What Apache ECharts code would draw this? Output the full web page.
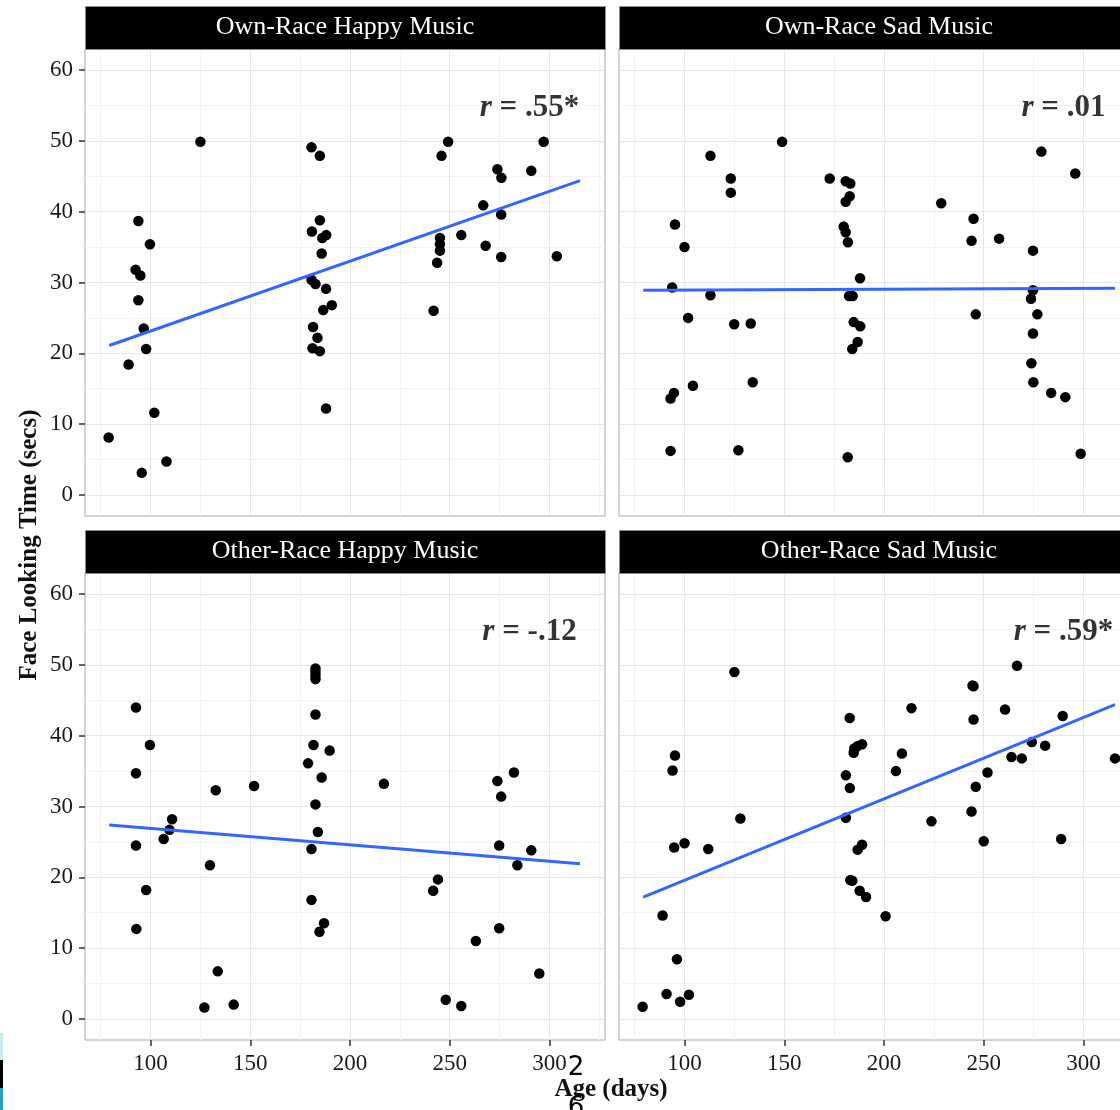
<!DOCTYPE html>
<html>
<head>
<meta charset="utf-8">
<script src="https://cdn.jsdelivr.net/npm/echarts@6/dist/echarts.min.js"></script>
<style>
  html, body { margin: 0; padding: 0; background: #ffffff; }
  #chart { width: 1120px; height: 1110px; }
</style>
</head>
<body>
<div id="chart"></div>
<script>
// ---- facet labels and axis ticks ----
const panelTitles = ['Own-Race Happy Music', 'Own-Race Sad Music', 'Other-Race Happy Music', 'Other-Race Sad Music'];
const corrLabels = ['.55*', '.01', '-.12', '.59*'];
const ageTicks = [100, 150, 200, 250, 300];
const ageMinor = [75, 125, 175, 225, 275, 325];
const timeTicks = [0, 10, 20, 30, 40, 50, 60];
const timeMinor = [5, 15, 25, 35, 45, 55];

// ---- Own-Race, happy music ----
const ownHappyAge  = [125.0, 180.7, 184.9, 249.2, 245.9, 297.1, 273.9, 275.9, 290.9, 266.8, 275.8, 255.8, 245.1, 245.1, 245.1, 243.7, 268.0, 275.8, 303.7, 241.9, 93.9, 99.7, 92.5, 94.9, 93.9, 96.6, 97.8, 89.0, 101.9, 79.0, 108.0, 95.6, 184.9, 180.9, 186.1, 188.1, 185.8, 180.7, 182.7, 188.0, 190.9, 186.6, 181.5, 183.7, 181.2, 184.9, 188.0];
const ownHappyTime = [49.9, 49.1, 47.9, 49.9, 47.9, 49.9, 46.0, 44.8, 45.8, 40.9, 39.6, 36.7, 36.3, 35.4, 34.5, 32.8, 35.2, 33.6, 33.7, 26.0, 38.7, 35.4, 31.8, 31.0, 27.5, 23.5, 20.6, 18.4, 11.6, 8.1, 4.7, 3.1, 38.8, 37.2, 36.3, 36.7, 34.1, 30.4, 29.8, 29.1, 26.8, 26.1, 23.7, 22.2, 20.7, 20.3, 12.2];
const ownHappyFitAge  = [79.3, 315.3];
const ownHappyFitTime = [21.1, 44.4];

// ---- Own-Race, sad music ----
const ownSadAge  = [148.9, 113.0, 123.2, 123.2, 95.2, 100.0, 93.8, 113.0, 101.8, 124.9, 133.2, 104.2, 94.7, 93.0, 134.2, 93.0, 127.0, 172.8, 180.8, 183.1, 182.8, 180.8, 179.8, 180.8, 181.9, 188.0, 182.5, 184.3, 184.8, 188.1, 186.8, 184.1, 181.8, 228.7, 244.9, 243.9, 257.7, 246.0, 278.9, 295.9, 274.7, 274.7, 273.7, 276.9, 274.7, 273.9, 274.9, 283.8, 290.9, 298.6];
const ownSadTime = [49.9, 47.9, 44.7, 42.7, 38.2, 35.0, 29.3, 28.2, 25.0, 24.1, 24.2, 15.4, 14.4, 13.6, 15.9, 6.2, 6.3, 44.7, 44.3, 44.0, 42.2, 41.4, 37.9, 37.1, 35.7, 30.6, 28.1, 28.1, 24.4, 23.8, 21.6, 20.6, 5.3, 41.2, 39.0, 35.9, 36.2, 25.5, 48.5, 45.4, 34.5, 28.9, 27.7, 25.5, 22.8, 18.6, 15.9, 14.4, 13.8, 5.8];
const ownSadFitAge  = [79.3, 315.8];
const ownSadFitTime = [28.9, 29.2];

// ---- Other-Race, happy music ----
const otherHappyAge  = [92.7, 99.7, 92.7, 92.7, 97.8, 92.9, 110.8, 109.5, 106.6, 132.7, 129.8, 133.7, 127.0, 141.7, 151.9, 182.7, 182.7, 182.7, 182.7, 182.7, 181.7, 189.8, 179.0, 185.8, 182.7, 183.9, 180.7, 180.7, 187.0, 184.7, 217.0, 244.1, 241.7, 263.1, 248.0, 255.8, 273.9, 282.2, 275.8, 274.8, 290.9, 283.9, 274.8, 294.9];
const otherHappyTime = [44.0, 38.7, 34.7, 24.5, 18.2, 12.7, 28.2, 26.7, 25.4, 32.3, 21.7, 6.7, 1.6, 2.0, 32.9, 49.5, 49.0, 48.5, 48.0, 43.0, 38.7, 37.9, 36.1, 34.1, 30.3, 26.4, 24.0, 16.8, 13.5, 12.3, 33.2, 19.7, 18.1, 11.0, 2.7, 1.8, 33.6, 34.8, 31.4, 24.5, 23.8, 21.7, 12.8, 6.4];
const otherHappyFitAge  = [79.3, 315.3];
const otherHappyFitTime = [27.4, 21.9];

// ---- Other-Race, sad music ----
const otherSadAge  = [125.0, 95.2, 94.0, 128.0, 94.8, 100.0, 111.9, 89.0, 96.2, 91.0, 102.2, 97.8, 79.0, 182.8, 185.1, 186.6, 189.0, 184.8, 180.9, 182.9, 180.9, 189.0, 186.8, 183.1, 184.1, 187.8, 191.0, 200.8, 209.0, 206.0, 213.8, 223.8, 244.4, 244.9, 244.9, 260.7, 266.7, 289.6, 251.9, 246.0, 243.9, 250.0, 263.9, 269.1, 274.1, 280.8, 288.8, 315.8];
const otherSadTime = [49.0, 37.2, 35.1, 28.3, 24.2, 24.8, 24.0, 14.6, 8.4, 3.5, 3.4, 2.4, 1.7, 42.5, 38.2, 38.5, 38.8, 37.6, 34.4, 32.6, 28.4, 24.6, 23.9, 19.6, 19.5, 18.1, 17.2, 14.5, 37.5, 35.0, 43.9, 27.9, 47.1, 47.0, 42.3, 43.7, 49.9, 42.8, 34.8, 32.8, 29.3, 25.1, 37.0, 36.8, 39.1, 38.6, 25.4, 36.8];
const otherSadFitAge  = [79.3, 315.8];
const otherSadFitTime = [17.2, 44.4];

const panels = [
  { age: ownHappyAge, time: ownHappyTime, fitAge: ownHappyFitAge, fitTime: ownHappyFitTime },
  { age: ownSadAge, time: ownSadTime, fitAge: ownSadFitAge, fitTime: ownSadFitTime },
  { age: otherHappyAge, time: otherHappyTime, fitAge: otherHappyFitAge, fitTime: otherHappyFitTime },
  { age: otherSadAge, time: otherSadTime, fitAge: otherSadFitAge, fitTime: otherSadFitTime }
];

// where the r annotation sits, in data units
const noteAge = 290;
const noteTime = 54.6;

const SERIF = '"Liberation Serif", "Times New Roman", serif';
const AGE_MIN = 67.15, AGE_MAX = 327.85;
const TIME_MIN = -3, TIME_MAX = 63;

const panelBoxes = [
  { left: 85,  top: 49 },
  { left: 619, top: 49 },
  { left: 85,  top: 573 },
  { left: 619, top: 573 }
];
const PANEL_W = 520, PANEL_H = 467, STRIP_H = 43;

const zip = (a, b) => a.map((v, i) => [v, b[i]]);

const grid = [], xAxis = [], yAxis = [], series = [], graphic = [];

panelBoxes.forEach((box, i) => {
  const bottomRow = i >= 2;
  const leftCol = i % 2 === 0;
  grid.push({
    left: box.left, top: box.top, width: PANEL_W, height: PANEL_H,
    outerBoundsMode: 'none', containLabel: false,
    show: true, borderColor: '#a8a8a8', borderWidth: 1, backgroundColor: 'transparent'
  });

  // major x axis (labels, ticks, major grid)
  xAxis.push({
    type: 'value', gridIndex: i, min: AGE_MIN, max: AGE_MAX, position: 'bottom',
    axisLine: { show: false, onZero: false },
    axisTick: { show: bottomRow, customValues: ageTicks, length: 6, lineStyle: { color: '#333', width: 1.5 } },
    axisLabel: { show: bottomRow, customValues: ageTicks, fontFamily: SERIF, fontSize: 23, color: '#1a1a1a', margin: 12 },
    splitLine: { show: true, lineStyle: { color: '#e6e6e6', width: 1 } },
    z: 1
  });
  // minor x grid
  xAxis.push({
    type: 'value', gridIndex: i, min: AGE_MIN, max: AGE_MAX, position: 'bottom',
    axisLine: { show: false, onZero: false },
    axisTick: { show: false, customValues: ageMinor },
    axisLabel: { show: false, customValues: ageMinor },
    splitLine: { show: true, lineStyle: { color: '#f3f3f3', width: 1 } },
    z: 0
  });
  // major y axis
  yAxis.push({
    type: 'value', gridIndex: i, min: TIME_MIN, max: TIME_MAX, position: 'left',
    axisLine: { show: false, onZero: false },
    axisTick: { show: leftCol, customValues: timeTicks, length: 6, lineStyle: { color: '#333', width: 1.5 } },
    axisLabel: { show: leftCol, customValues: timeTicks, fontFamily: SERIF, fontSize: 23, color: '#1a1a1a', margin: 12 },
    splitLine: { show: true, lineStyle: { color: '#e6e6e6', width: 1 } },
    z: 1
  });
  // minor y grid
  yAxis.push({
    type: 'value', gridIndex: i, min: TIME_MIN, max: TIME_MAX, position: 'left',
    axisLine: { show: false, onZero: false },
    axisTick: { show: false, customValues: timeMinor },
    axisLabel: { show: false, customValues: timeMinor },
    splitLine: { show: true, lineStyle: { color: '#f3f3f3', width: 1 } },
    z: 0
  });

  const p = panels[i];
  series.push({
    type: 'scatter', xAxisIndex: 2 * i, yAxisIndex: 2 * i,
    data: zip(p.age, p.time), symbolSize: 10.5,
    itemStyle: { color: '#000000', opacity: 1 }, z: 3, silent: true
  });
  series.push({
    type: 'line', xAxisIndex: 2 * i, yAxisIndex: 2 * i,
    data: zip(p.fitAge, p.fitTime), showSymbol: false, symbol: 'none',
    lineStyle: { color: '#3366FF', width: 3 }, z: 4, silent: true
  });
  series.push({
    type: 'scatter', xAxisIndex: 2 * i, yAxisIndex: 2 * i,
    data: [[noteAge, noteTime]], symbolSize: 2,
    itemStyle: { color: 'rgba(0,0,0,0)' }, z: 5, silent: true,
    label: {
      show: true, position: 'inside', color: '#000000',
      textBorderWidth: 0,
      formatter: '{i|r}{b| = ' + corrLabels[i] + '}',
      rich: {
        i: { fontFamily: SERIF, fontSize: 31, fontWeight: 'bold', fontStyle: 'italic', color: '#000000', textBorderWidth: 0 },
        b: { fontFamily: SERIF, fontSize: 31, fontWeight: 'bold', color: '#000000', textBorderWidth: 0 }
      }
    }
  });

  // facet strip
  graphic.push({
    type: 'rect', left: box.left, top: box.top - STRIP_H,
    shape: { width: PANEL_W, height: STRIP_H },
    style: { fill: '#000000', stroke: '#8a8a8a', lineWidth: 1 }, z: 10
  });
  graphic.push({
    type: 'text', x: box.left + PANEL_W / 2, y: box.top - STRIP_H / 2,
    style: { text: panelTitles[i], fill: '#ffffff', font: '26px ' + SERIF, textAlign: 'center', textVerticalAlign: 'middle' },
    z: 11
  });
});

// axis titles
graphic.push({
  type: 'text', x: 30, y: 545, rotation: Math.PI / 2,
  style: { text: 'Face Looking Time (secs)', fill: '#111', font: 'bold 25px ' + SERIF, textAlign: 'center', textVerticalAlign: 'middle' },
  z: 11
});
graphic.push({
  type: 'text', x: 611, y: 1090,
  style: { text: 'Age (days)', fill: '#111', font: 'bold 25px ' + SERIF, textAlign: 'center', textVerticalAlign: 'middle' },
  z: 11
});

// page number and margin marks at the foot of the page
graphic.push({
  type: 'text', x: 576, y: 1068,
  style: { text: '2', fill: '#000', font: '26px "DejaVu Sans", sans-serif', textAlign: 'center', textVerticalAlign: 'middle' },
  z: 12
});
graphic.push({
  type: 'text', x: 576, y: 1108,
  style: { text: '6', fill: '#000', font: '26px "DejaVu Sans", sans-serif', textAlign: 'center', textVerticalAlign: 'middle' },
  z: 12
});
graphic.push({ type: 'rect', left: 0, top: 1033, shape: { width: 3, height: 27 }, style: { fill: '#c9ecf3' }, z: 12 });
graphic.push({ type: 'rect', left: 0, top: 1060, shape: { width: 3, height: 28 }, style: { fill: '#000000' }, z: 12 });
graphic.push({ type: 'rect', left: 0, top: 1088, shape: { width: 3, height: 22 }, style: { fill: '#23a3c2' }, z: 12 });

const chart = echarts.init(document.getElementById('chart'), null, { renderer: 'canvas' });
chart.setOption({
  backgroundColor: '#ffffff',
  animation: false,
  grid, xAxis, yAxis, series, graphic
});
</script>
</body>
</html>
